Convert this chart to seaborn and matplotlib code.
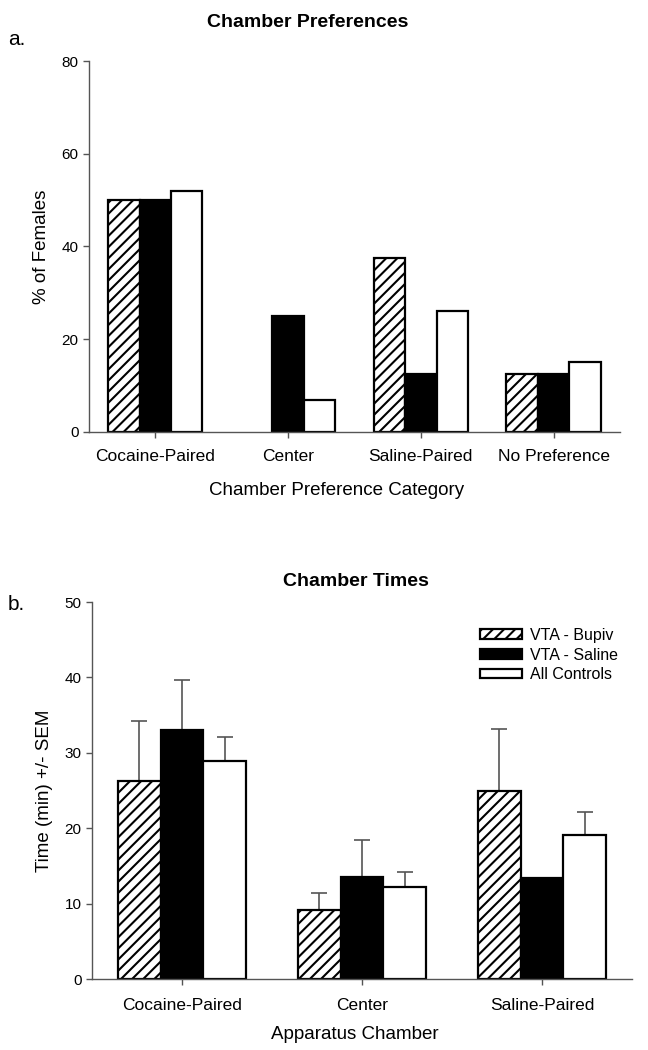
import matplotlib
matplotlib.use("Agg")
import matplotlib.pyplot as plt
import numpy as np
import pandas as pd
import seaborn as sns
from matplotlib.patches import Patch

# panel a: chamber preferences (% of females)
pref_cats = ["Cocaine-Paired", "Center", "Saline-Paired", "No Preference"]
pref_bupiv = [50, 0, 37.5, 12.5]
pref_saline = [50, 25, 12.5, 12.5]
pref_controls = [52, 7, 26, 15]

# panel b: chamber times (min) +/- SEM
time_cats = ["Cocaine-Paired", "Center", "Saline-Paired"]
time_bupiv = [26.3, 9.1, 24.9]
time_saline = [33.0, 13.5, 13.4]
time_controls = [28.9, 12.2, 19.1]
sem_bupiv = [7.9, 2.3, 8.2]
sem_saline = [6.7, 5.0, 0.0]
sem_controls = [3.2, 2.0, 3.1]

groups = ["VTA - Bupiv", "VTA - Saline", "All Controls"]
faces = {"VTA - Bupiv": "white", "VTA - Saline": "black", "All Controls": "white"}
hatches = {"VTA - Bupiv": "///", "VTA - Saline": "", "All Controls": ""}

sns.set_style("white")
plt.rcParams["font.family"] = ["Liberation Sans", "DejaVu Sans"]
plt.rcParams["hatch.linewidth"] = 1.5
plt.rcParams["hatch.color"] = "black"
plt.rcParams["text.color"] = "black"
plt.rcParams["axes.labelcolor"] = "black"
plt.rcParams["xtick.color"] = "black"
plt.rcParams["ytick.color"] = "black"


def long_df(cats, series):
    rows = []
    for g, vals in zip(groups, series):
        for c, v in zip(cats, vals):
            rows.append({"cat": c, "group": g, "val": v})
    return pd.DataFrame(rows)


def style_bars(ax, n_cats):
    # seaborn draws patches hue by hue
    for i, bar in enumerate(ax.patches[: n_cats * len(groups)]):
        g = groups[i // n_cats]
        bar.set_facecolor(faces[g])
        bar.set_edgecolor("black")
        bar.set_linewidth(1.6)
        bar.set_hatch(hatches[g])
        if bar.get_height() == 0:
            bar.set_visible(False)


def style_axes(ax, xpad):
    for s in ["top", "right"]:
        ax.spines[s].set_visible(False)
    for s in ["left", "bottom"]:
        ax.spines[s].set_color("#555555")
        ax.spines[s].set_linewidth(1.0)
    ax.tick_params(axis="both", direction="out", length=4, width=1, color="#555555",
                   bottom=True, left=True)
    ax.tick_params(axis="x", labelsize=12.5, pad=xpad)
    ax.tick_params(axis="y", labelsize=11)


fig = plt.figure(figsize=(6.48, 10.5), dpi=100)

# ---- panel a ----
ax1 = fig.add_axes([0.1373, 0.5886, 0.8194, 0.3533])
df1 = long_df(pref_cats, [pref_bupiv, pref_saline, pref_controls])
sns.barplot(data=df1, x="cat", y="val", hue="group", width=0.71, gap=0,
            legend=False, ax=ax1)
style_bars(ax1, len(pref_cats))
style_axes(ax1, 8)
ax1.set_xlim(-0.5, 3.5)
ax1.set_ylim(0, 80)
ax1.set_yticks([0, 20, 40, 60, 80])
ax1.set_xlabel("Chamber Preference Category", fontsize=13.5)
ax1.xaxis.set_label_coords(0.467, -0.135)
ax1.set_ylabel("% of Females", fontsize=13.5, labelpad=8)
fig.text(0.475, 0.979, "Chamber Preferences", ha="center", va="center",
         fontsize=14, fontweight="bold")
fig.text(0.012, 0.962, "a.", ha="left", va="center", fontsize=15)

# ---- panel b ----
ax2 = fig.add_axes([0.142, 0.0676, 0.8333, 0.359])
df2 = long_df(time_cats, [time_bupiv, time_saline, time_controls])
sns.barplot(data=df2, x="cat", y="val", hue="group", width=0.71, gap=0,
            legend=False, ax=ax2)
style_bars(ax2, len(time_cats))
style_axes(ax2, 10)

sems = sem_bupiv + sem_saline + sem_controls
for bar, s in zip(ax2.patches[: len(sems)], sems):
    if s <= 0:
        continue
    xc = bar.get_x() + bar.get_width() / 2
    top = bar.get_height()
    # lower half hides behind the bar
    ax2.errorbar(xc, top, yerr=s, fmt="none", ecolor="#555555",
                 elinewidth=1.2, capsize=6, capthick=1.2, zorder=0.5)

ax2.set_xlim(-0.5, 2.5)
ax2.set_ylim(0, 50)
ax2.set_yticks([0, 10, 20, 30, 40, 50])
ax2.set_xlabel("Apparatus Chamber", fontsize=13.5)
ax2.xaxis.set_label_coords(0.487, -0.125)
ax2.set_ylabel("Time (min) +/- SEM", fontsize=13.5, labelpad=8)
fig.text(0.55, 0.446, "Chamber Times", ha="center", va="center",
         fontsize=14, fontweight="bold")
fig.text(0.012, 0.424, "b.", ha="left", va="center", fontsize=15)

handles = [Patch(facecolor=faces[g], edgecolor="black", hatch=hatches[g],
                 linewidth=1.6, label=g) for g in groups]
ax2.legend(handles=handles, loc="upper right", bbox_to_anchor=(1.0, 0.97),
           frameon=False, fontsize=11.5, handlelength=2.6, handleheight=0.55,
           handletextpad=0.5, labelspacing=0.3)

fig.savefig("out.png", dpi=100)
